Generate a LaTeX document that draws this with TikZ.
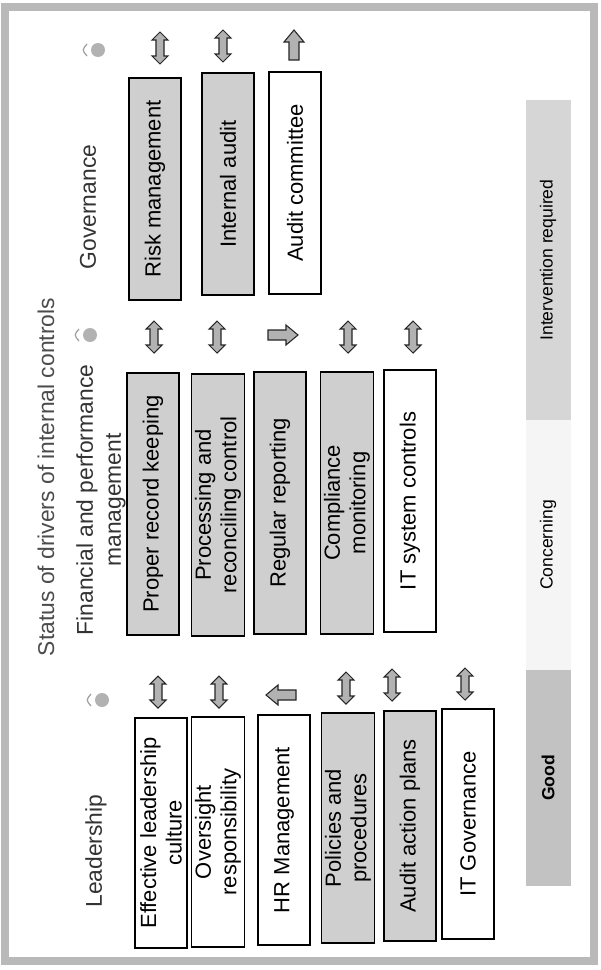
\documentclass[tikz,border=0pt]{standalone}
\usepackage{fontspec}
\setmainfont{Liberation Sans}
\usetikzlibrary{positioning}
\usetikzlibrary{calc}

\tikzset{
  driver/.style={draw, line width=1.1pt, rotate=90, minimum height=1.04cm,
    inner sep=2pt, align=center, font=\fontsize{12.5}{14.5}\selectfont},
  ok/.style={driver, fill=gray!38},
  weak/.style={driver, fill=white},
  heading/.style={rotate=90, align=center, text=black!80,
    font=\fontsize{13}{16}\selectfont},
  band/.style={rotate=90, minimum height=0.9cm, inner sep=0pt,
    font=\fontsize{10}{12}\selectfont},
  trend/.style={draw=black!85, line width=0.6pt, fill=gray!60},
  pics/updown/.style={code={
    \draw[trend] (0,-16)--(8,-8)--(4,-8)--(4,8)--(8,8)--(0,16)--(-8,8)
      --(-4,8)--(-4,-8)--(-8,-8)--cycle;
  }},
  pics/pointer/.style={code={
    \draw[trend,rotate=#1] (-15,-5)--(3,-5)--(3,-10)--(15,0)--(3,10)
      --(3,5)--(-15,5)--cycle;
  }},
  pics/status/.style={code={
    \fill[gray!60] (0,0) circle[radius=7];
    \draw[gray!75, line width=0.7pt] (-11,-6) .. controls (-16,0) .. (-11,6);
  }},
}

\begin{document}
\begin{tikzpicture}[x=0.02cm, y=-0.02cm]
  \useasboundingbox (0,0) rectangle (600,970);
  \fill[white] (0,0) rectangle (600,970);
  \draw[gray!55, line width=0.15cm] (5,7) rectangle (594,961);

  % title and column headings
  \node (title) [heading, text=black!70] at (46,477)
    {Status of drivers of internal controls};
  \node (hgov) [heading] at (88,207) {Governance};
  \node (hfin) [heading] at (101,500) {Financial and performance\\management};
  \node (hlead) [heading] at (96,851) {Leadership};

  % governance
  \node (rm) [ok, minimum width=4.44cm] at (155,189) {Risk management};
  \node (ia) [ok, minimum width=4.44cm] at (228,184) {Internal audit};
  \node (ac) [weak, minimum width=4.44cm] at (295,183) {Audit committee};

  % financial and performance management
  \node (prk) [ok, minimum width=5.24cm] at (153,504) {Proper record keeping};
  \node (prc) [ok, minimum width=5.24cm] at (218,505)
    {Processing and\\reconciling control};
  \node (rr) [ok, minimum width=5.24cm] at (280,503) {Regular reporting};
  \node (cm) [ok, minimum width=5.24cm] at (347,503) {Compliance\\monitoring};
  \node (isc) [weak, minimum width=5.24cm] at (410,501) {IT system controls};

  % leadership
  \node (elc) [weak, minimum width=4.6cm] at (161,833)
    {Effective leadership\\culture};
  \node (ovr) [weak, minimum width=4.6cm] at (218,832)
    {Oversight\\responsibility};
  \node (hrm) [weak, minimum width=4.6cm] at (284,830) {HR Management};
  \node (pp) [ok, minimum width=4.6cm] at (348,828) {Policies and\\procedures};
  \node (aap) [ok, minimum width=4.6cm] at (410,826) {Audit action plans};
  \node (itg) [weak, minimum width=4.6cm] at (468,824) {IT Governance};

  % status markers
  \foreach \px/\py in {98/50, 90/335, 102/700}
    \pic at (\px,\py) {status};
  \foreach \px/\py in {160/48, 223/46, 154/337, 217/337, 348/337, 413/337,
                       158/692, 219/692, 346/688, 392/685, 465/684}
    \pic at (\px,\py) {updown};
  \pic at (294,45) {pointer=90};
  \pic at (283,335) {pointer=0};
  \pic at (281,695) {pointer=180};

  % legend
  \node (lint) [band, fill=gray!32, minimum width=6.4cm] at (548,260)
    {Intervention required};
  \node (lconc) [band, fill=gray!8, minimum width=5cm] at (548,545)
    {Concerning};
  \node (lgood) [band, fill=gray!48, minimum width=4.34cm] at (548,778)
    {\bfseries Good};
\end{tikzpicture}
\end{document}
